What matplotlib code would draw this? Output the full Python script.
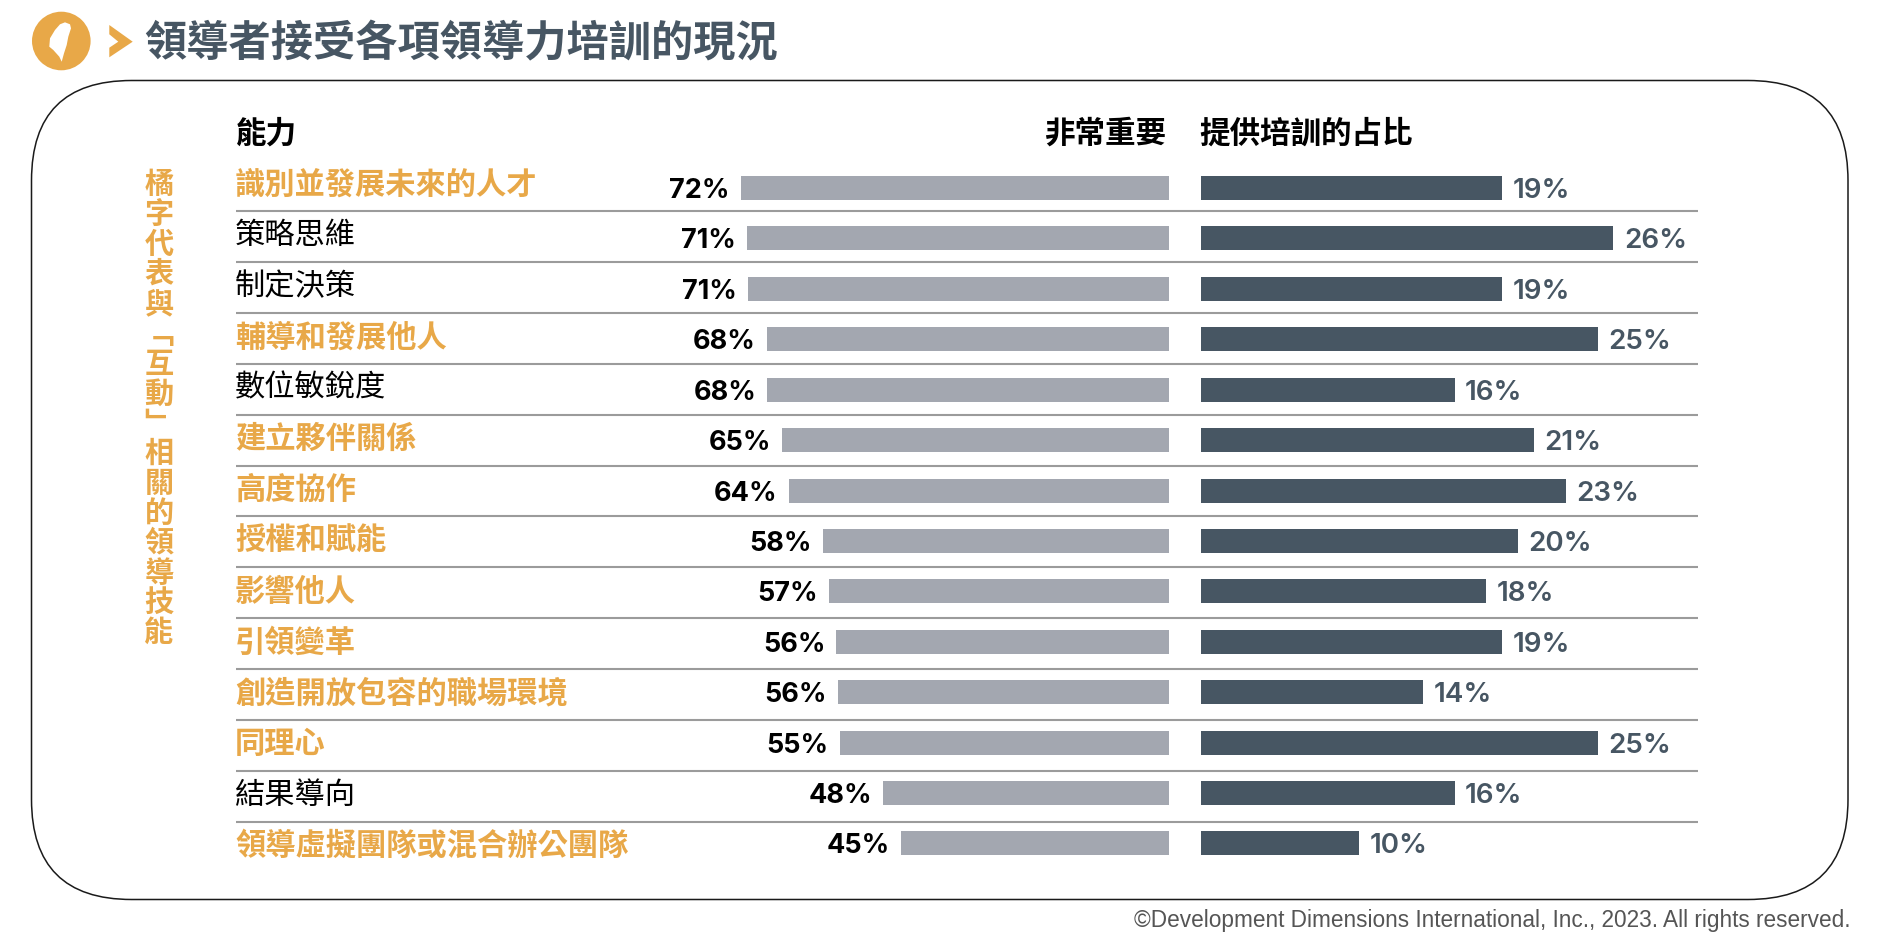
import matplotlib
matplotlib.use("Agg")
import matplotlib.pyplot as plt
from matplotlib.patches import Circle, FancyBboxPatch, Polygon

W, H = 1878, 942
ORANGE = "#E8A848"
SLATE = "#475663"
GREY_BAR = "#A3A7B0"
CJK = ["Noto Sans CJK TC", "DejaVu Sans"]

# data
skills = ["識別並發展未來的人才", "策略思維", "制定決策", "輔導和發展他人", "數位敏銳度", "建立夥伴關係", "高度協作",
          "授權和賦能", "影響他人", "引領變革", "創造開放包容的職場環境", "同理心", "結果導向", "領導虛擬團隊或混合辦公團隊"]
highlighted = [True, False, False, True, False, True, True, True, True, True, True, True, False, True]
important = [72, 70.9, 70.7, 67.6, 67.5, 65, 63.9, 58.1, 57.1, 55.9, 55.6, 55.3, 48, 45]
important_labels = ["72%", "71%", "71%", "68%", "68%", "65%", "64%", "58%", "57%", "56%", "56%", "55%", "48%", "45%"]
training = [19, 26, 19, 25, 16, 21, 23, 20, 18, 19, 14, 25, 16, 10]
title = "領導者接受各項領導力培訓的現況"
side_note = "橘字代表與﹁互動﹂相關的領導技能"
credit = "©Development Dimensions International, Inc., 2023. All rights reserved."


def px_axes(fig, x0, x1, y0, y1):
    return fig.add_axes([x0 / W, 1 - y1 / H, (x1 - x0) / W, (y1 - y0) / H])


fig = plt.figure(figsize=(W / 100, H / 100), dpi=100)

# overlay in pixel coordinates for the frame, texts and rules
bg = fig.add_axes([0, 0, 1, 1])
bg.set_xlim(0, W)
bg.set_ylim(H, 0)
bg.axis("off")

r = 100
bg.add_patch(FancyBboxPatch((31.5 + r, 80.5 + r), 1816.5 - 2 * r, 819 - 2 * r, boxstyle="round,pad=%d,rounding_size=%d" % (r, r),
                            fc="white", ec="#1a1a1a", lw=1.1))

# logo
bg.add_patch(Circle((61.3, 41), 29.3, fc=ORANGE, ec="none"))
taiwan = [(65, 22.3), (70, 24.3), (71, 28.3), (68.3, 36.7), (66.7, 45), (64, 53.3), (61.7, 61.7), (59.3, 56.7),
          (53.3, 50), (49.3, 46.7), (50, 38.3), (55, 30), (60, 24.3)]
bg.add_patch(Polygon(taiwan, fc="white", ec="none"))
bg.add_patch(Polygon([(109.3, 25), (132.7, 41.7), (109.3, 57.3), (109.3, 47.7), (118.3, 41.7), (109.3, 34.3)], fc=ORANGE, ec="none"))

bg.text(144, 44.5, title, family=CJK, fontsize=30.4, fontweight="bold", color=SLATE, va="center", ha="left")

# headers
bg.text(236, 134, "能力", family=CJK, fontsize=22, fontweight="bold", color="black", va="center")
bg.text(1166, 134, "非常重要", family=CJK, fontsize=22, fontweight="bold", color="black", va="center", ha="right")
bg.text(1199, 134, "提供培訓的占比", family=CJK, fontsize=22, fontweight="bold", color="black", va="center")

# vertical note
y = 184.5
for ch in side_note:
    bg.text(159, y, ch, family=CJK, fontsize=21, fontweight="bold", color=ORANGE, ha="center", va="center")
    y += 29.85

# row labels and rules
for i, name in enumerate(skills):
    ypos = 184.8 + 50.85 * i
    if highlighted[i]:
        bg.text(235, ypos, name, family=CJK, fontsize=21.8, fontweight="bold", color=ORANGE, va="center")
    else:
        bg.text(235, ypos, name, family=CJK, fontsize=21.8, color="black", va="center")
    if i < len(skills) - 1:
        bg.plot([236, 1698], [211 + 50.9 * i] * 2, color="#9b9b9b", lw=1.5, solid_capstyle="butt")

bg.text(1851, 920.5, credit, family="Liberation Sans", fontsize=16.25, color="#555555", ha="right", va="center")

# bars, with row i centred on pixel 188 + 50.42 * i
rows = range(len(skills))
top, bottom = 160, 872
ylim = ((bottom - 188) / 50.42, (top - 188) / 50.42)

ax1 = px_axes(fig, 700, 1169, top, bottom)
ax1.patch.set_alpha(0)
ax1.barh(rows, important, height=24 / 50.42, color=GREY_BAR)
ax1.set_xlim(469 / 5.95, 0)
ax1.set_ylim(*ylim)
ax1.axis("off")
for i, lab in enumerate(important_labels):
    ax1.annotate(lab, (important[i], i), xytext=(-8, 0), textcoords="offset points", ha="right", va="center_baseline",
                 family="Inter", fontsize=19.5, fontweight="bold", color="black", annotation_clip=False)

ax2 = px_axes(fig, 1200.5, 1720, top, bottom)
ax2.patch.set_alpha(0)
ax2.barh(rows, training, height=24 / 50.42, color=SLATE)
ax2.set_xlim(0, 519.5 / 15.88)
ax2.set_ylim(*ylim)
ax2.axis("off")
for i, v in enumerate(training):
    ax2.annotate(str(v) + "%", (v, i), xytext=(7.5, 0), textcoords="offset points", ha="left", va="center_baseline",
                 family="Inter", fontsize=20, fontweight="semibold", color=SLATE, annotation_clip=False)

fig.savefig("out.png", dpi=100)
